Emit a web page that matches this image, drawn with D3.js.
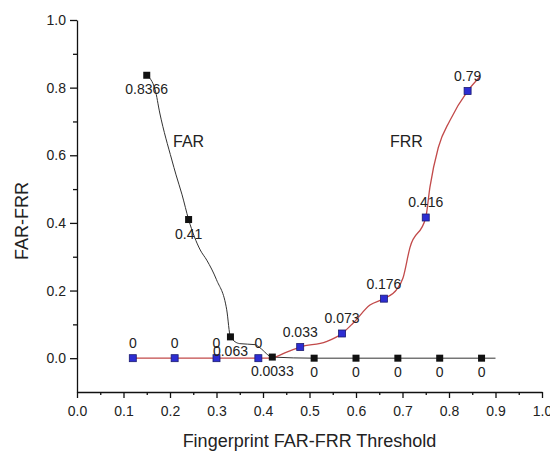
<!DOCTYPE html>
<html>
<head>
<meta charset="utf-8">
<script src="https://cdn.jsdelivr.net/npm/d3@7/dist/d3.min.js"></script>
<style>
  html, body { margin: 0; padding: 0; background: #fff; }
  svg { display: block; font-family: "Liberation Sans", Arial, sans-serif; }
  .axis path, .axis line { stroke: #111; stroke-width: 1.3; }
  .axis text { font-size: 14px; fill: #222; font-family: "Liberation Sans", Arial, sans-serif; }
</style>
</head>
<body>
<svg id="chart" width="550" height="451"></svg>
<script>
// Threshold positions of the plotted markers
const farThresholds = [0.15, 0.24, 0.33, 0.42, 0.51, 0.60, 0.69, 0.78, 0.87];
const farValues     = [0.8366, 0.41, 0.063, 0.0033, 0, 0, 0, 0, 0];

const frrThresholds = [0.12, 0.21, 0.30, 0.39, 0.48, 0.57, 0.66, 0.75, 0.84];
const frrValues     = [0, 0, 0, 0, 0.033, 0.073, 0.176, 0.416, 0.79];

// Finer sampling of each rate curve (the line drawn under the markers)
const farCurveX = [0.15, 0.168, 0.178, 0.204, 0.213, 0.226, 0.24, 0.265, 0.279, 0.30, 0.322, 0.33, 0.35, 0.383, 0.394, 0.42, 0.51, 0.60, 0.69, 0.78, 0.87, 0.90];
const farCurveY = [0.8366, 0.794, 0.725, 0.586, 0.542, 0.483, 0.41, 0.32, 0.29, 0.232, 0.143, 0.063, 0.043, 0.04, 0.03, 0.0033, 0, 0, 0, 0, 0, 0];

const frrCurveX = [0.12, 0.21, 0.30, 0.39, 0.42, 0.429, 0.451, 0.48, 0.536, 0.57, 0.594, 0.63, 0.66, 0.687, 0.701, 0.716, 0.75, 0.759, 0.777, 0.802, 0.84, 0.867];
const frrCurveY = [0, 0, 0, 0, 0, 0.0045, 0.018, 0.033, 0.049, 0.073, 0.104, 0.157, 0.176, 0.202, 0.237, 0.327, 0.416, 0.506, 0.623, 0.703, 0.79, 0.833];

// Axis ticks
const xTicks      = [0.0, 0.1, 0.2, 0.3, 0.4, 0.5, 0.6, 0.7, 0.8, 0.9, 1.0];
const xMinorTicks = [0.05, 0.15, 0.25, 0.35, 0.45, 0.55, 0.65, 0.75, 0.85, 0.95];
const yTicks      = [0.0, 0.2, 0.4, 0.6, 0.8, 1.0];
const yMinorTicks = [0.1, 0.3, 0.5, 0.7, 0.9];

const xTitle = "Fingerprint FAR-FRR Threshold";
const yTitle = "FAR-FRR";

const svg = d3.select("#chart");

const x = d3.scaleLinear().domain([0, 1]).range([77, 542]);
const y = d3.scaleLinear().domain([-0.1, 1.0]).range([392, 20]);
const fmt = d3.format(".1f");

// X axis (major + minor ticks)
svg.append("g").attr("class", "axis")
  .attr("transform", `translate(0,${y(-0.1)})`)
  .call(d3.axisBottom(x).tickValues(xTicks).tickFormat(fmt)
    .tickSize(6).tickSizeOuter(0).tickPadding(8));
svg.append("g").attr("class", "axis")
  .attr("transform", `translate(0,${y(-0.1)})`)
  .call(d3.axisBottom(x).tickValues(xMinorTicks).tickFormat("")
    .tickSize(3).tickSizeOuter(0))
  .call(g => g.select(".domain").remove());

// Y axis (major + minor ticks)
svg.append("g").attr("class", "axis")
  .attr("transform", `translate(${x(0)},0)`)
  .call(d3.axisLeft(y).tickValues(yTicks).tickFormat(fmt)
    .tickSize(7).tickSizeOuter(0).tickPadding(4));
svg.append("g").attr("class", "axis")
  .attr("transform", `translate(${x(0)},0)`)
  .call(d3.axisLeft(y).tickValues(yMinorTicks).tickFormat("")
    .tickSize(4).tickSizeOuter(0))
  .call(g => g.select(".domain").remove());

// Axis titles
svg.append("text")
  .attr("x", (x(0) + x(1)) / 2).attr("y", 447)
  .attr("text-anchor", "middle")
  .attr("font-size", 18).attr("fill", "#222")
  .text(xTitle);
svg.append("text")
  .attr("transform", `translate(28,221) rotate(-90)`)
  .attr("text-anchor", "middle")
  .attr("font-size", 18).attr("fill", "#222")
  .text(yTitle);

const line = d3.line()
  .x(d => x(d[0])).y(d => y(d[1]))
  .curve(d3.curveMonotoneX);

const farCurve = d3.zip(farCurveX, farCurveY);
const frrCurve = d3.zip(frrCurveX, frrCurveY);
const farPts = d3.zip(farThresholds, farValues);
const frrPts = d3.zip(frrThresholds, frrValues);

// Curves
svg.append("path").datum(farCurve)
  .attr("d", line).attr("fill", "none")
  .attr("stroke", "#333").attr("stroke-width", 1);
svg.append("path").datum(frrCurve)
  .attr("d", line).attr("fill", "none")
  .attr("stroke", "#c24a4a").attr("stroke-width", 1.3);

const ms = 7;

// FRR markers and their value labels (above)
svg.append("g").selectAll("rect").data(frrPts).join("rect")
  .attr("x", d => x(d[0]) - ms / 2).attr("y", d => y(d[1]) - ms / 2)
  .attr("width", ms).attr("height", ms)
  .attr("fill", "#2d2dd2").attr("stroke", "#1b1b70").attr("stroke-width", 0.8);
svg.append("g").selectAll("text").data(frrPts).join("text")
  .attr("x", d => x(d[0])).attr("y", d => y(d[1]) - 10)
  .attr("text-anchor", "middle").attr("font-size", 14).attr("fill", "#222")
  .text(d => String(d[1]));

// FAR markers and their value labels (below)
svg.append("g").selectAll("rect").data(farPts).join("rect")
  .attr("x", d => x(d[0]) - ms / 2).attr("y", d => y(d[1]) - ms / 2)
  .attr("width", ms).attr("height", ms)
  .attr("fill", "#111");
svg.append("g").selectAll("text").data(farPts).join("text")
  .attr("x", d => x(d[0])).attr("y", d => y(d[1]) + 19)
  .attr("text-anchor", "middle").attr("font-size", 14).attr("fill", "#222")
  .text(d => String(d[1]));

// Curve names
svg.append("text").attr("x", 173).attr("y", 147)
  .attr("font-size", 16).attr("fill", "#222").text("FAR");
svg.append("text").attr("x", 390).attr("y", 147)
  .attr("font-size", 16).attr("fill", "#222").text("FRR");
</script>
</body>
</html>
